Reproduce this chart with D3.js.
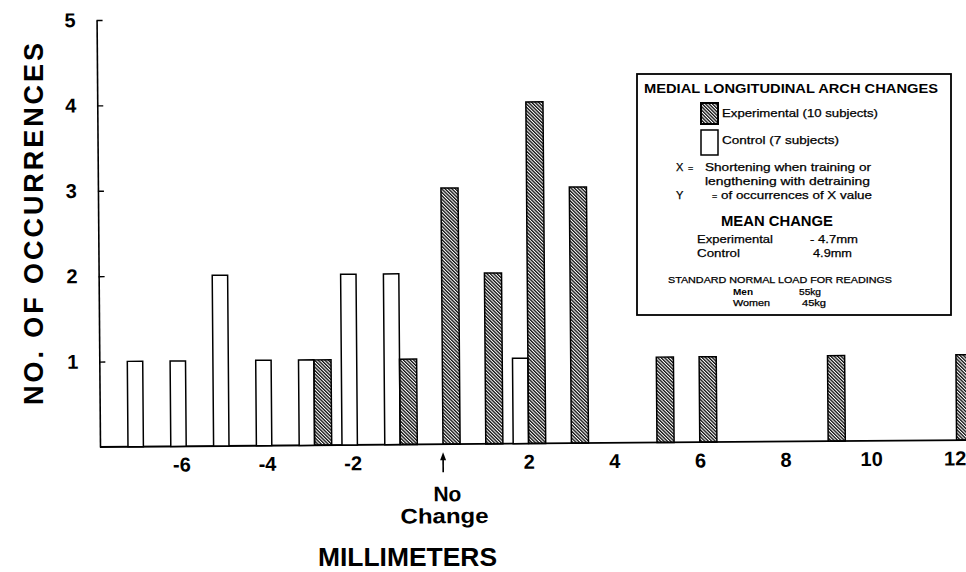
<!DOCTYPE html>
<html>
<head>
<meta charset="utf-8">
<script src="https://cdn.jsdelivr.net/npm/d3@7"></script>
<style>
  html, body { margin: 0; padding: 0; background: #fff; }
  svg { display: block; font-family: "Liberation Sans", Arial, Helvetica, sans-serif; }
</style>
</head>
<body>
<svg id="chart" width="966" height="572"></svg>
<script>
// ---- Data ----
const controlX      = [-7, -6, -5, -4, -3, -2, -1, 2];
const controlCount  = [ 1,  1,  2,  1,  1,  2,  2, 1];
const expX          = [-3, -1, 0, 1, 2, 3, 5, 6, 9, 12];
const expCount      = [ 1,  1, 3, 2, 4, 3, 1, 1, 1, 1];
const yTickValues   = [1, 2, 3, 4, 5];
const xTickValues   = [-6, -4, -2, 2, 4, 6, 8, 10, 12];

const legendTitle   = "MEDIAL LONGITUDINAL ARCH CHANGES";
const seriesNames   = ["Experimental (10 subjects)", "Control (7 subjects)"];
const meanLabels    = ["Experimental", "Control"];
const meanValues    = ["- 4.7mm", "4.9mm"];
const loadTitle     = "STANDARD NORMAL LOAD FOR READINGS";
const loadLabels    = ["Men", "Women"];
const loadValues    = ["55kg", "45kg"];

// ---- Setup ----
const svg = d3.select("#chart");
const defs = svg.append("defs");
defs.append("pattern")
  .attr("id", "hatch")
  .attr("patternUnits", "userSpaceOnUse")
  .attr("width", 2.4).attr("height", 10)
  .attr("patternTransform", "rotate(-45)")
  .append("rect")
  .attr("x", 0).attr("y", 0).attr("width", 1.35).attr("height", 10)
  .attr("fill", "#111");

const x = d3.scaleLinear().domain([0, 12]).range([443, 956.6]);
const y = d3.scaleLinear().domain([0, 5]).range([447, 20]);

// slight tilt as in the scanned original
const plot = svg.append("g").attr("transform", "rotate(-0.46,100,447)");

// baseline
plot.append("line")
  .attr("x1", 100).attr("x2", 990)
  .attr("y1", y(0)).attr("y2", y(0))
  .attr("stroke", "#000").attr("stroke-width", 1.8);

// y axis
const yAxis = d3.axisLeft(y)
  .tickValues(yTickValues)
  .tickSizeInner(-6).tickSizeOuter(0)
  .tickPadding(21)
  .tickFormat(d3.format("d"));
const yg = plot.append("g").attr("transform", "translate(100,0)").call(yAxis);
yg.select(".domain").attr("stroke-width", 1.6);
yg.selectAll(".tick line").attr("stroke-width", 1.4);
yg.selectAll(".tick text")
  .attr("font-size", 20).attr("font-weight", "bold")
  .attr("font-family", "Liberation Sans, Arial, sans-serif")
  .attr("fill", "#000");

// x axis labels
const xAxis = d3.axisBottom(x)
  .tickValues(xTickValues)
  .tickSize(0).tickPadding(11)
  .tickFormat(d => d < 0 ? "-" + Math.abs(d) : String(d));
const xg = plot.append("g").attr("transform", `translate(0,${y(0)})`).call(xAxis);
xg.select(".domain").remove();
xg.selectAll(".tick text")
  .attr("font-size", 20).attr("font-weight", "bold")
  .attr("font-family", "Liberation Sans, Arial, sans-serif")
  .attr("fill", "#000")
  .attr("text-anchor", d => d < 0 ? "end" : (d === 12 ? "end" : "middle"))
  .attr("dx", d => d < 0 ? 4 : (d === 12 ? 9 : 0));

// bars
const ctrlW = 0.36, expW = 0.40;
plot.append("g").selectAll("rect")
  .data(controlX.map((v, i) => ({ v, c: controlCount[i] })))
  .join("rect")
  .attr("x", d => x(d.v - ctrlW))
  .attr("width", d => x(d.v) - x(d.v - ctrlW))
  .attr("y", d => y(d.c))
  .attr("height", d => y(0) - y(d.c))
  .attr("fill", "#fff").attr("stroke", "#000").attr("stroke-width", 1.5);

plot.append("g").selectAll("rect")
  .data(expX.map((v, i) => ({ v, c: expCount[i] })))
  .join("rect")
  .attr("x", d => x(d.v))
  .attr("width", d => x(d.v + expW) - x(d.v))
  .attr("y", d => y(d.c))
  .attr("height", d => y(0) - y(d.c))
  .attr("fill", "url(#hatch)").attr("stroke", "#000").attr("stroke-width", 1.5);

// "No Change" arrow
const ax = x(0);
plot.append("line")
  .attr("x1", ax).attr("x2", ax)
  .attr("y1", y(0) + 28).attr("y2", y(0) + 13)
  .attr("stroke", "#000").attr("stroke-width", 1.6);
plot.append("path")
  .attr("d", d3.line()([[ax - 3, y(0) + 16], [ax, y(0) + 8], [ax + 3, y(0) + 16]]) + "Z")
  .attr("fill", "#000");
plot.append("text")
  .attr("x", ax + 4).attr("y", y(0) + 57)
  .attr("text-anchor", "middle").attr("font-size", 21).attr("font-weight", "bold")
  .text("No");
plot.append("text")
  .attr("x", ax + 1).attr("y", y(0) + 79)
  .attr("text-anchor", "middle").attr("font-size", 21).attr("font-weight", "bold")
  .attr("textLength", 88).attr("lengthAdjust", "spacingAndGlyphs")
  .text("Change");

// axis titles
svg.append("text")
  .attr("x", 407.5).attr("y", 566)
  .attr("text-anchor", "middle").attr("font-size", 26).attr("font-weight", "bold")
  .attr("textLength", 179).attr("lengthAdjust", "spacingAndGlyphs")
  .text("MILLIMETERS");
svg.append("text")
  .attr("transform", "translate(43,224) rotate(-90)")
  .attr("text-anchor", "middle").attr("font-size", 27).attr("font-weight", "bold")
  .attr("textLength", 362).attr("lengthAdjust", "spacing")
  .text("NO. OF OCCURRENCES");

// ---- Legend box ----
const lg = svg.append("g");
lg.append("rect")
  .attr("x", 637).attr("y", 74).attr("width", 314).attr("height", 241)
  .attr("fill", "#fff").attr("stroke", "#000").attr("stroke-width", 1.8);

function t(xp, yp, str, size, opts = {}) {
  const el = lg.append("text")
    .attr("x", xp).attr("y", yp)
    .attr("font-size", size)
    .attr("font-weight", opts.bold ? "bold" : "normal")
    .attr("fill", "#000")
    .attr("stroke", opts.bold ? "none" : "#000")
    .attr("stroke-width", opts.bold ? 0 : 0.25)
    .text(str);
  if (opts.len) el.attr("textLength", opts.len).attr("lengthAdjust", "spacingAndGlyphs");
  return el;
}

t(644, 93, legendTitle, 12.5, { bold: true, len: 294 });

lg.append("rect").attr("x", 701).attr("y", 103).attr("width", 17).attr("height", 21)
  .attr("fill", "url(#hatch)").attr("stroke", "#000").attr("stroke-width", 2);
t(722, 117, seriesNames[0], 11, { len: 156 });
lg.append("rect").attr("x", 701).attr("y", 130).attr("width", 17).attr("height", 25)
  .attr("fill", "#fff").attr("stroke", "#000").attr("stroke-width", 1.5);
t(722, 144, seriesNames[1], 11, { len: 117 });

t(676, 171, "X", 11);
t(688, 171, "=", 9);
t(705, 171, "Shortening when training or", 11, { len: 166 });
t(705, 185, "lengthening with detraining", 11, { len: 165 });
t(676, 199, "Y", 11);
t(712, 199, "=", 9);
t(721, 199, "of occurrences of X value", 11, { len: 151 });

t(721, 226, "MEAN CHANGE", 14.5, { bold: true, len: 112 });
t(697, 243, meanLabels[0], 11.5, { len: 76 });
t(810, 243, meanValues[0], 11.5, { len: 48 });
t(697, 257, meanLabels[1], 11.5, { len: 43 });
t(813, 257, meanValues[1], 11.5, { len: 39 });

t(668, 283, loadTitle, 8.5, { len: 224 });
t(733, 295, loadLabels[0], 8.5, { bold: true, len: 20 });
t(799, 295, loadValues[0], 8.5, { len: 22 });
t(733, 306, loadLabels[1], 8.5, { len: 37 });
t(802, 306, loadValues[1], 8.5, { len: 24 });
</script>
</body>
</html>
